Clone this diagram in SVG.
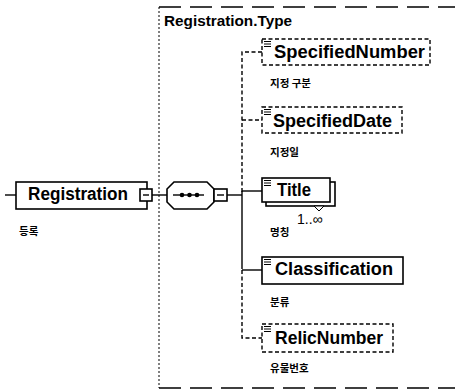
<svg xmlns="http://www.w3.org/2000/svg" xmlns:xlink="http://www.w3.org/1999/xlink" width="455" height="391" viewBox="0 0 455 391">
<style>
.bg{fill:#fff}
.box{fill:#fff;stroke:#000;stroke-width:1.6}
.opt{fill:#fff;stroke:#000;stroke-width:1.4;stroke-dasharray:4 2.5}
.ln{fill:none;stroke:#000;stroke-width:1.4}
.dl{fill:none;stroke:#000;stroke-width:1.4;stroke-dasharray:4 2.5}
.lbl{font-family:"Liberation Sans",Arial,sans-serif;font-weight:bold;font-size:18px;fill:#000}
.ko{font-family:"Noto Sans CJK KR","Noto Sans",sans-serif;font-size:10.5px;font-weight:bold;fill:#000}
.ttl{font-family:"Liberation Sans",Arial,sans-serif;font-weight:bold;font-size:15px;fill:#000}
</style>
<defs>
<g id="doc"><path d="M0 0.5H7M0 3H7M0 5.5H7" stroke="#000" stroke-width="1"/></g>
</defs>
<rect class="bg" x="0" y="0" width="455" height="391"/>

<g id="type-frame">
<path d="M159 7H455" fill="none" stroke="#000" stroke-width="1.3" stroke-dasharray="22 9"/>
<path d="M159 388H455" fill="none" stroke="#000" stroke-width="1.3" stroke-dasharray="22 9"/>
<path d="M159 7V388" fill="none" stroke="#000" stroke-width="1" stroke-dasharray="2 2"/>
<text class="ttl" x="164" y="26" textLength="128" lengthAdjust="spacingAndGlyphs">Registration.Type</text>
</g>

<g id="connectors">
<path class="ln" d="M5 195H16"/>
<path class="ln" d="M152 195H167"/>
<path class="ln" d="M227 195H242"/>
<path class="dl" d="M262 52H242V192"/>
<path class="dl" d="M242 120H262"/>
<path class="ln" d="M242 191V269"/>
<path class="ln" d="M242 191H262"/>
<path class="ln" d="M242 270H262"/>
<path class="dl" d="M242 270V338H262"/>
</g>

<g id="node-registration">
<rect class="box" x="16" y="182" width="131" height="27"/>
<text class="lbl" x="28" y="200" font-size="17" textLength="100" lengthAdjust="spacingAndGlyphs">Registration</text>
<rect class="box" x="140" y="189" width="12" height="12" stroke-width="1.2"/>
<path class="ln" d="M143 195H149"/>
<text class="ko" x="19" y="235">등록</text>
</g>

<g id="node-sequence">
<path class="box" d="M174 182H207L214 189V202L207 209H174L167 202V189Z"/>
<path class="ln" d="M173 195H204"/>
<circle cx="182" cy="195" r="2.3"/>
<circle cx="189.5" cy="195" r="2.3"/>
<circle cx="197" cy="195" r="2.3"/>
<rect class="box" x="214" y="189" width="13" height="12" stroke-width="1.2"/>
<path class="ln" d="M217 195H224"/>
</g>

<g id="node-specifiednumber">
<rect class="opt" x="262" y="39" width="168" height="26"/>
<use xlink:href="#doc" x="264" y="41"/>
<text class="lbl" x="274" y="58" textLength="151" lengthAdjust="spacingAndGlyphs">SpecifiedNumber</text>
<text class="ko" x="270" y="87">지정 구분</text>
</g>

<g id="node-specifieddate">
<rect class="opt" x="262" y="107" width="140" height="26"/>
<use xlink:href="#doc" x="264" y="109"/>
<text class="lbl" x="273" y="127" textLength="119" lengthAdjust="spacingAndGlyphs">SpecifiedDate</text>
<text class="ko" x="270" y="156">지정일</text>
</g>

<g id="node-title">
<rect class="box" x="266" y="182" width="69" height="24"/>
<rect class="box" x="262" y="178" width="68" height="24"/>
<path d="M314 206H324L319 211Z" fill="#fff" stroke="#000" stroke-width="1"/>
<use xlink:href="#doc" x="264" y="180"/>
<text class="lbl" x="277" y="196" textLength="34" lengthAdjust="spacingAndGlyphs">Title</text>
<text font-family="Liberation Sans,Arial,sans-serif" font-size="14" x="297" y="224">1..∞</text>
<text class="ko" x="270" y="236">명칭</text>
</g>

<g id="node-classification">
<rect class="box" x="262" y="257" width="141" height="27"/>
<use xlink:href="#doc" x="264" y="259"/>
<text class="lbl" x="275" y="275" textLength="118" lengthAdjust="spacingAndGlyphs">Classification</text>
<text class="ko" x="270" y="306">분류</text>
</g>

<g id="node-relicnumber">
<rect class="opt" x="262" y="324" width="131" height="28"/>
<use xlink:href="#doc" x="264" y="326"/>
<text class="lbl" x="275" y="344" textLength="108" lengthAdjust="spacingAndGlyphs">RelicNumber</text>
<text class="ko" x="270" y="372">유물번호</text>
</g>
</svg>
